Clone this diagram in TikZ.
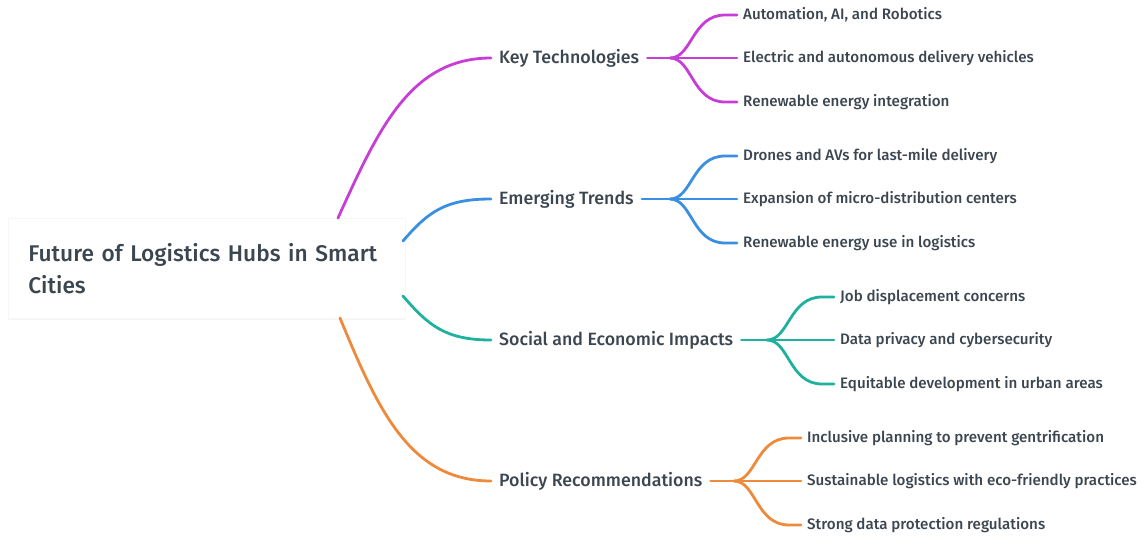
\documentclass[tikz,border=0pt]{standalone}
\usepackage{fontspec}
\setmainfont{Fira Sans}[UprightFont={* Medium}]
\usetikzlibrary{shadows}
\definecolor{txt}{HTML}{3C4650}
\definecolor{cM}{HTML}{C63ED6}
\definecolor{cB}{HTML}{3A8FE0}
\definecolor{cT}{HTML}{1FB09E}
\definecolor{cO}{HTML}{EE8A3C}
\tikzset{
  rootbox/.style={fill=white, draw=black!3, line width=0.6pt, text=txt, align=left, anchor=north west,
    minimum width=397pt, minimum height=100pt, text width=357pt, inner xsep=20pt,
    font=\fontsize{22.7}{32}\selectfont,
    drop shadow={shadow xshift=0pt, shadow yshift=-1.5pt, opacity=0.10, fill=black!40}},
  branch/.style={text=txt, anchor=west, inner xsep=8pt, inner ysep=2pt, font=\fontsize{17.8}{20}\selectfont},
  leaf/.style={text=txt, anchor=west, inner xsep=6pt, inner ysep=2pt, font=\fontsize{15.15}{18}\selectfont},
  conn/.style={line width=2.8pt, line cap=round}
}
\begin{document}
\begin{tikzpicture}[x=1pt,y=-1pt]
\useasboundingbox (0,0) rectangle (1146,538);
% root
\node[rootbox] (root) at (8,218) {Future of Logistics Hubs in Smart Cities};
% branches
\node[branch] (b1) at (491,58) {Key Technologies};
\node[branch] (b2) at (491,199) {Emerging Trends};
\node[branch] (b3) at (491,340) {Social and Economic Impacts};
\node[branch] (b4) at (491,481) {Policy Recommendations};
% root connection points
\coordinate (r1) at (338,218);
\coordinate (r2) at (403,241);
\coordinate (r3) at (403,296);
\coordinate (r4) at (340,318);
\draw[conn,cM] (r1) .. controls (378,130) and (410,58) .. (b1.west);
\draw[conn,cB] (r2) .. controls (428,212) and (445,199) .. (b2.west);
\draw[conn,cT] (r3) .. controls (428,325) and (445,340) .. (b3.west);
\draw[conn,cO] (r4) .. controls (378,410) and (410,481) .. (b4.west);
% leaves
\node[leaf] (l11) at (737,15) {Automation, AI, and Robotics};
\node[leaf] (l12) at (737,58) {Electric and autonomous delivery vehicles};
\node[leaf] (l13) at (737,102) {Renewable energy integration};
\node[leaf] (l21) at (737,156) {Drones and AVs for last-mile delivery};
\node[leaf] (l22) at (737,199) {Expansion of micro-distribution centers};
\node[leaf] (l23) at (737,243) {Renewable energy use in logistics};
\node[leaf] (l31) at (834,297) {Job displacement concerns};
\node[leaf] (l32) at (834,340) {Data privacy and cybersecurity};
\node[leaf] (l33) at (834,384) {Equitable development in urban areas};
\node[leaf] (l41) at (801,438) {Inclusive planning to prevent gentrification};
\node[leaf] (l42) at (801,481) {Sustainable logistics with eco-friendly practices};
\node[leaf] (l43) at (801,525) {Strong data protection regulations};
% forks
\coordinate (f1) at (670,58);
\coordinate (f2) at (670,199);
\coordinate (f3) at (767,340);
\coordinate (f4) at (734,481);
\foreach \b/\f/\c/\i in {b1/f1/cM/1, b2/f2/cB/2, b3/f3/cT/3, b4/f4/cO/4}{
  \draw[conn,\c] (\b.east) -- (\f);
  \draw[conn,\c] (\f) .. controls ([xshift=22pt]\f) and ([xshift=22pt]\f |- l\i1.west) .. ([xshift=-12pt]l\i1.west) -- (l\i1.west);
  \draw[conn,\c] (\f) -- (l\i2.west);
  \draw[conn,\c] (\f) .. controls ([xshift=22pt]\f) and ([xshift=22pt]\f |- l\i3.west) .. ([xshift=-12pt]l\i3.west) -- (l\i3.west);
}
\end{tikzpicture}
\end{document}
